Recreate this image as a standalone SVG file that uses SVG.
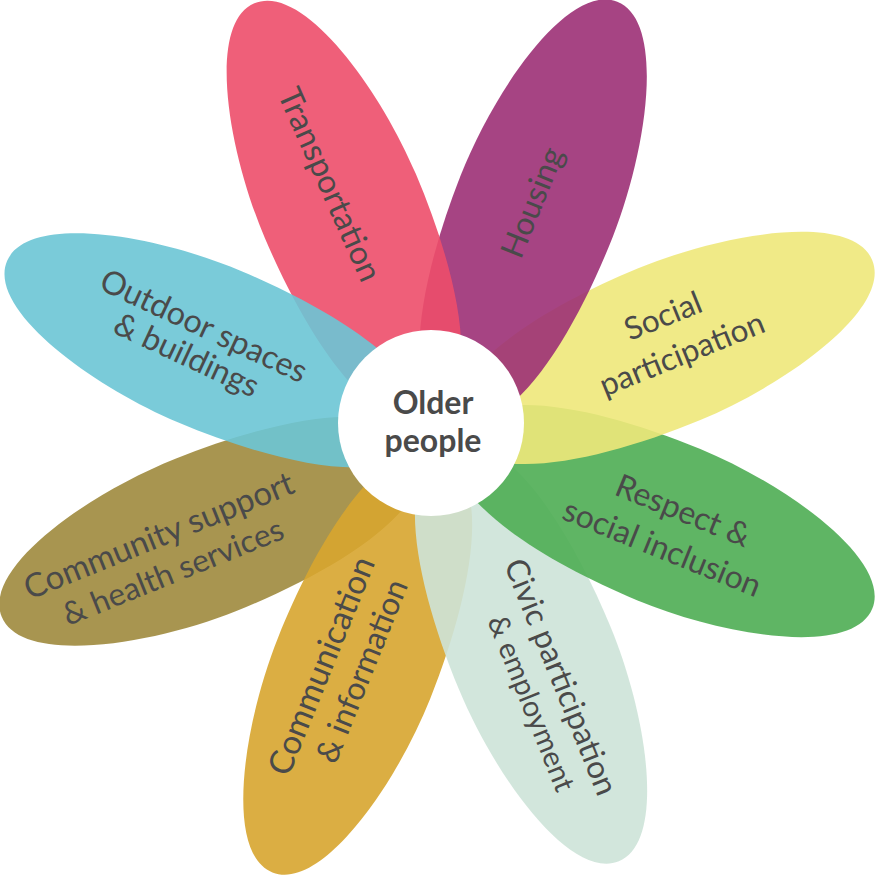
<svg xmlns="http://www.w3.org/2000/svg" width="876" height="875" viewBox="0 0 876 875">
<style>
.p{fill-opacity:.9}
text{font-family:"Lato","Open Sans",sans-serif;font-size:32px;fill:#4a4a4a;text-anchor:middle}
</style>
<defs><path id="petal" d="M0-20C60-20 82-140 82-250C82-345 52-470 0-470C-52-470-82-345-82-250C-82-140-60-20 0-20Z"/></defs>
<rect width="876" height="875" fill="#fff"/>
<g id="petals">
<g id="community"><use href="#petal" class="p" fill="#9f893d" transform="translate(438 442) rotate(248.2)"/></g>
<g id="communication"><use href="#petal" class="p" fill="#d7a52f" transform="translate(447 436) rotate(201.8)"/></g>
<g id="civic"><use href="#petal" class="p" fill="#cde3d8" transform="translate(439 427) rotate(157.5)"/></g>
<g id="respect"><use href="#petal" class="p" fill="#4ead53" transform="translate(438 429) rotate(112.5)"/></g>
<g id="social"><use href="#petal" class="p" fill="#eee87a" transform="translate(438 440) rotate(67.5)"/></g>
<g id="housing"><use href="#petal" class="p" fill="#9c3076" transform="translate(445 439) rotate(21.5)"/></g>
<g id="transportation"><use href="#petal" class="p" fill="#ed4e6a" transform="translate(438 436) rotate(-23)"/></g>
<g id="outdoor"><use href="#petal" class="p" fill="#6cc5d5" transform="translate(440 444) rotate(-67.1)"/></g>
</g>
<g id="labels">
<text transform="translate(319.5 189) rotate(66)" style="font-size:32.5px">Transportation</text>
<text transform="translate(542.5 206.5) rotate(-68)">Housing</text>
<text transform="translate(667 326) rotate(-22)" style="font-size:31.5px">Social</text>
<text transform="translate(686 364) rotate(-22)" style="font-size:31.5px">participation</text>
<text transform="translate(679 521) rotate(22)">Respect &amp;</text>
<text transform="translate(658 558) rotate(22)">social inclusion</text>
<text transform="translate(551 681) rotate(68)" style="font-size:31.7px">Civic participation</text>
<text transform="translate(522 707) rotate(68)" style="font-size:29px">&amp; employment</text>
<text transform="translate(332 670) rotate(-68)" style="font-size:33.5px">Communication</text>
<text transform="translate(372 675) rotate(-68)" style="font-size:32px">&amp; information</text>
<text transform="translate(163 546) rotate(-22)" style="font-size:33px">Community support</text>
<text transform="translate(177 582) rotate(-22)" style="font-size:31.5px">&amp; health services</text>
<text transform="translate(199 336) rotate(25)" style="font-size:32.4px">Outdoor spaces</text>
<text transform="translate(182 365) rotate(25)">&amp; buildings</text>
</g>
<g id="center"><circle cx="431" cy="423" r="93" fill="#fff"/><text font-weight="700" style="font-size:32px"><tspan x="433" y="414">Older</tspan><tspan x="433" y="452">people</tspan></text></g>
</svg>
